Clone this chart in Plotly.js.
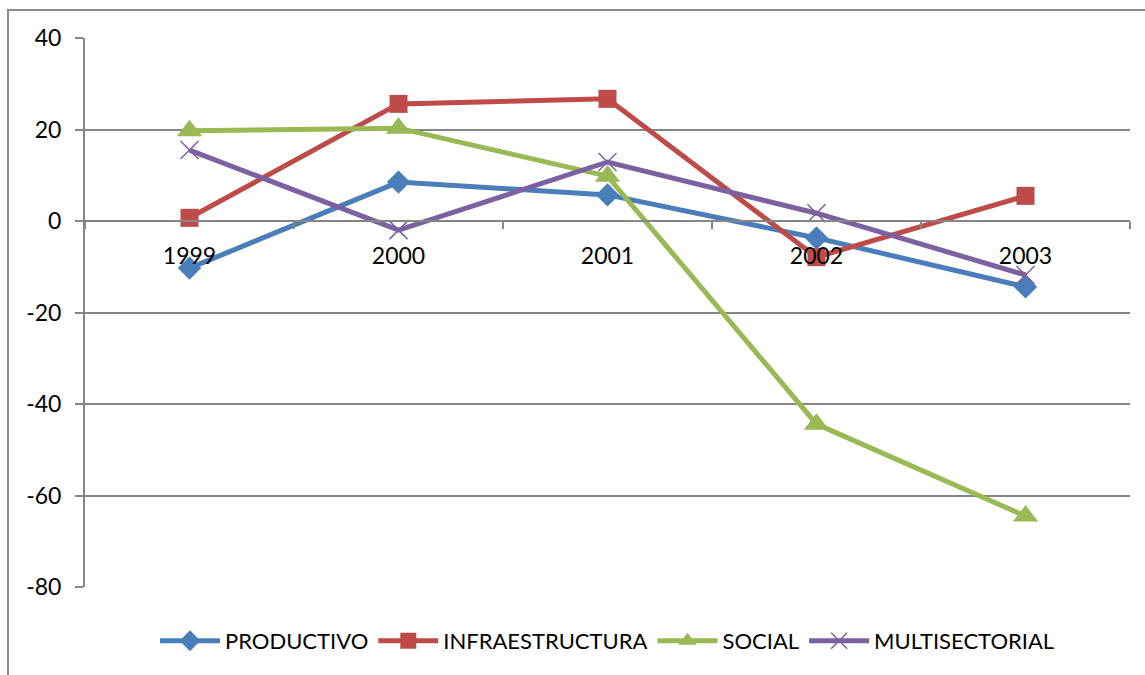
<!DOCTYPE html>
<html>
<head>
<meta charset="utf-8">
<script src="https://cdn.plot.ly/plotly-3.0.1.min.js"></script>
<style>html,body{margin:0;padding:0;background:#fff;}#chart{width:1145px;height:675px;}</style>
</head>
<body>
<div id="chart"></div>
<script>
const years = ['1999', '2000', '2001', '2002', '2003'];
const productivo = [-10.3, 8.5, 5.7, -3.7, -14.4];
const infraestructura = [0.7, 25.6, 26.7, -7.9, 5.5];
const social = [19.7, 20.3, 9.8, -44.4, -64.5];
const multisectorial = [15.5, -2.0, 12.9, 1.7, -11.8];
const seriesNames = ['PRODUCTIVO', 'INFRAESTRUCTURA', 'SOCIAL', 'MULTISECTORIAL'];
const yTicks = [-80, -60, -40, -20, 0, 20, 40];
const yTickLabels = ['-80', '-60', '-40', '-20', '0', '20', '40'];

const colors = ['#4A7EBB', '#BE4B48', '#98B954', '#7D60A0'];
const symbols = ['diamond', 'square', 'triangle-up', 'x-thin-open'];
const sizes = [18, 18, 22, 18];
const data = [productivo, infraestructura, social, multisectorial].map((vals, i) => ({
  type: 'scatter',
  mode: 'lines+markers',
  name: seriesNames[i],
  x: years,
  y: vals,
  line: {color: colors[i], width: 5},
  marker: {symbol: symbols[i], size: sizes[i], color: colors[i],
           line: {color: colors[i], width: i === 3 ? 1.5 : 0}}
}));

const yMin = -80, yMax = 40;
const layout = {
  width: 1145, height: 675,
  margin: {l: 85, r: 15, t: 38, b: 88},
  paper_bgcolor: '#fff', plot_bgcolor: '#fff',
  font: {family: 'Lato, "Open Sans", sans-serif', color: '#000'},
  showlegend: true,
  legend: {orientation: 'h', x: 0.5, xanchor: 'center', y: -0.06, yanchor: 'top',
           font: {size: 22}, itemwidth: 60, tracegroupgap: 0},
  xaxis: {
    type: 'category',
    anchor: 'free',
    position: (0 - yMin) / (yMax - yMin),
    showline: true, linecolor: '#868686', linewidth: 2,
    ticks: 'outside', tickson: 'boundaries', ticklen: 7, tickcolor: '#868686', tickwidth: 2,
    showgrid: false, zeroline: false,
    tickfont: {size: 23}, range: [-0.5, 4.5], ticklabelstandoff: 14
  },
  yaxis: {
    range: [yMin, yMax],
    tickvals: yTicks, ticktext: yTickLabels,
    showline: true, linecolor: '#868686', linewidth: 2,
    ticks: 'outside', ticklen: 8, tickcolor: '#868686', tickwidth: 2,
    showgrid: true, gridcolor: '#868686', gridwidth: 2,
    zeroline: false,
    tickfont: {size: 23}, ticklabelstandoff: 9
  },
  shapes: [{
    type: 'rect', xref: 'paper', yref: 'paper',
    x0: (8 - 85) / 1045, x1: 1.2, y0: -0.3, y1: (587 - 10) / 549,
    line: {color: '#8c8c8c', width: 2}, fillcolor: 'rgba(0,0,0,0)', layer: 'below'
  }]
};

Plotly.newPlot('chart', data, layout, {displayModeBar: false});
</script>
</body>
</html>
